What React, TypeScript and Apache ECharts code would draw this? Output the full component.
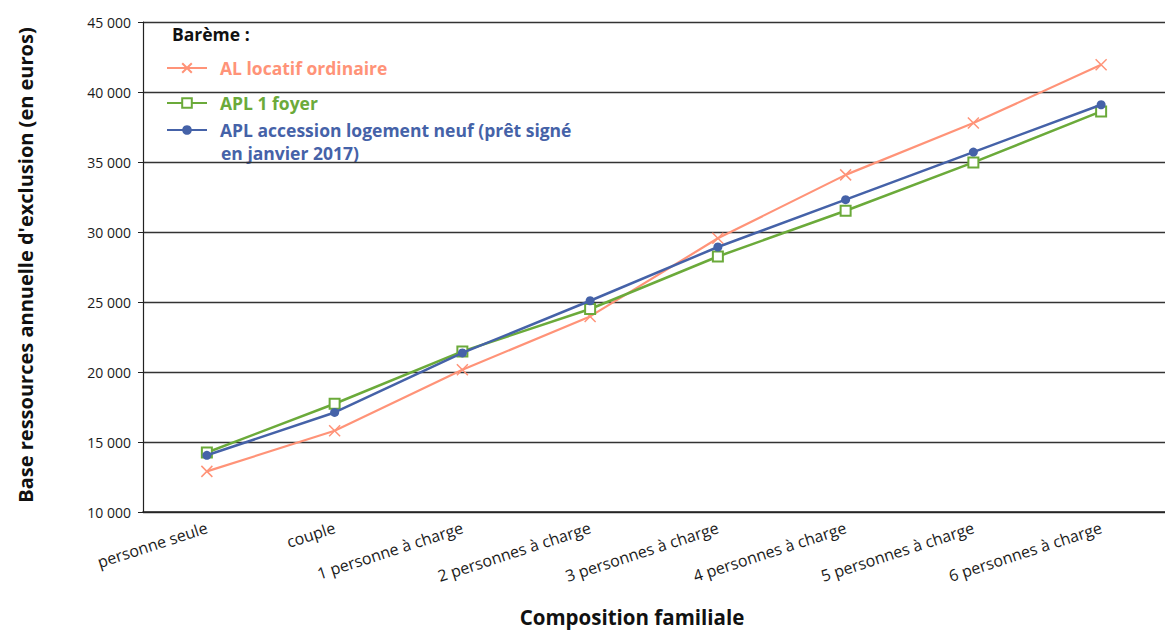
import React, { useEffect, useRef } from "react";
import * as echarts from "echarts";

const categories = [
  "personne seule",
  "couple",
  "1 personne à charge",
  "2 personnes à charge",
  "3 personnes à charge",
  "4 personnes à charge",
  "5 personnes à charge",
  "6 personnes à charge",
];

const alLocatif = [12900, 15800, 20160, 23970, 29550, 34080, 37780, 41950];
const apl1Foyer = [14250, 17730, 21470, 24500, 28250, 31520, 34970, 38610];
const aplAccession = [14050, 17110, 21360, 25090, 28930, 32310, 35710, 39090];

const NAME_AL = "AL locatif ordinaire";
const NAME_APL1 = "APL 1 foyer";
const NAME_ACC = "APL accession logement neuf (prêt signé en janvier 2017)";
const ACC_LINE1 = "APL accession logement neuf (prêt signé";
const ACC_LINE2 = "en janvier 2017)";
const Y_NAME = "Base ressources annuelle d'exclusion (en euros)";
const X_NAME = "Composition familiale";

const C_AL = "#FF9378";
const C_APL1 = "#6BAA3A";
const C_ACC = "#4562A8";
const FONT = "Open Sans";

export default function App() {
  const ref = useRef<HTMLDivElement>(null);
  useEffect(() => {
    if (!ref.current) return;
    const chart = echarts.init(ref.current, null, { renderer: "svg" });
    const fmt = (v: number) => {
      const s = String(Math.round(v));
      return s.replace(/\B(?=(\d{3})+(?!\d))/g, " ");
    };
    const legendText = { fontWeight: "bold", fontSize: 17.5, fontFamily: FONT, lineHeight: 20, padding: [0, 0, 0, 8] };
    chart.setOption({
      animation: false,
      backgroundColor: "#ffffff",
      textStyle: { fontFamily: FONT },
      grid: { left: 143, right: -6, top: 22, bottom: 118, containLabel: false },
      xAxis: {
        type: "category",
        data: categories,
        boundaryGap: true,
        axisLine: { lineStyle: { color: "#222", width: 1.5 } },
        axisTick: { show: false },
        axisLabel: {
          rotate: 18,
          margin: 15,
          interval: 0,
          color: "#1a1a1a",
          fontSize: 16,
          fontFamily: FONT,
        },
      },
      yAxis: {
        type: "value",
        min: 10000,
        max: 45000,
        interval: 5000,
        axisLine: { show: true, lineStyle: { color: "#222", width: 1.2 } },
        axisTick: { show: true, length: 5, lineStyle: { color: "#222" } },
        axisLabel: {
          formatter: fmt,
          margin: 12,
          color: "#1a1a1a",
          fontSize: 14,
          fontFamily: FONT,
        },
        splitLine: { lineStyle: { color: "#333", width: 1.3 } },
      },
      legend: [
        {
          data: [{ name: NAME_AL, textStyle: { color: C_AL } }],
          left: 166,
          top: 58,
          padding: 0,
          orient: "vertical",
          itemWidth: 40,
          itemHeight: 12,
          textStyle: legendText,
          selectedMode: false,
        },
        {
          data: [
            { name: NAME_APL1, textStyle: { color: C_APL1 } },
            { name: NAME_ACC, textStyle: { color: C_ACC } },
          ],
          left: 166,
          top: 93,
          padding: 0,
          orient: "vertical",
          itemGap: 7,
          itemWidth: 40,
          itemHeight: 12,
          formatter: (n: string) => (n === NAME_ACC ? ACC_LINE1 : n),
          textStyle: legendText,
          selectedMode: false,
        },
      ],
      graphic: [
        {
          type: "text",
          left: 172,
          top: 25,
          style: { text: "Barème :", fontWeight: "bold", fontSize: 17.5, fontFamily: FONT, fill: "#111" },
        },
        {
          type: "text",
          left: 221,
          top: 144,
          style: { text: ACC_LINE2, fontWeight: "bold", fontSize: 17.5, fontFamily: FONT, fill: C_ACC },
        },
        {
          type: "text",
          x: 25,
          y: 265,
          rotation: Math.PI / 2,
          style: {
            text: Y_NAME,
            fontWeight: "bold",
            fontSize: 20,
            fontFamily: FONT,
            fill: "#111",
            align: "center",
            verticalAlign: "middle",
          },
        },
        {
          type: "text",
          x: 632,
          y: 617,
          style: {
            text: X_NAME,
            fontWeight: "bold",
            fontSize: 20.5,
            fontFamily: FONT,
            fill: "#111",
            align: "center",
            verticalAlign: "middle",
          },
        },
      ],
      series: [
        {
          name: NAME_AL,
          type: "line",
          data: alLocatif,
          symbol: "path://M0,0L10,10M10,0L0,10",
          symbolSize: 11,
          lineStyle: { color: C_AL, width: 2.2 },
          itemStyle: { color: "none", borderColor: C_AL, borderWidth: 1.5 },
          z: 2,
        },
        {
          name: NAME_APL1,
          type: "line",
          data: apl1Foyer,
          symbol: "emptyRect",
          symbolSize: 10,
          lineStyle: { color: C_APL1, width: 2.5 },
          itemStyle: { color: C_APL1, borderColor: C_APL1, borderWidth: 1.5 },
          z: 3,
        },
        {
          name: NAME_ACC,
          type: "line",
          data: aplAccession,
          symbol: "circle",
          symbolSize: 9,
          lineStyle: { color: C_ACC, width: 2.5 },
          itemStyle: { color: C_ACC },
          z: 4,
        },
      ],
    });
    return () => chart.dispose();
  }, []);
  return (
    <div
      ref={ref}
      style={{ position: "fixed", left: 0, top: 0, width: 1165, height: 630, background: "#fff" }}
    />
  );
}
